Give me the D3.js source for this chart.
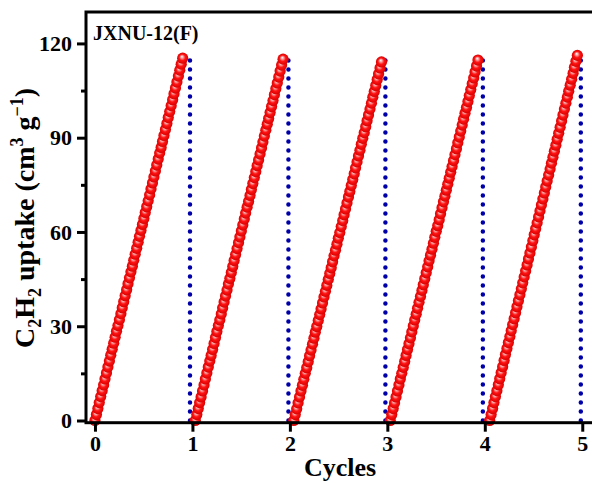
<!DOCTYPE html>
<html>
<head>
<meta charset="utf-8">
<script src="https://cdn.jsdelivr.net/npm/d3@7"></script>
<style>
body { margin: 0; background: #fff; }
text { font-family: "Liberation Serif", "Times New Roman", serif; font-weight: bold; fill: #000; }
</style>
</head>
<body>
<script>
// start of each adsorption cycle (x, in cycles)
var cycleStart = [0, 1.03, 2.04, 3.03, 4.05];
// time offset of each sample inside a cycle
var cycleTime = [0, 0.015, 0.030, 0.044, 0.059, 0.074, 0.089, 0.103, 0.118, 0.133, 0.148, 0.162, 0.177, 0.192, 0.207, 0.221,
	0.236, 0.251, 0.266, 0.280, 0.295, 0.310, 0.325, 0.339, 0.354, 0.369, 0.384, 0.398, 0.413, 0.428, 0.443, 0.457,
	0.472, 0.487, 0.502, 0.516, 0.531, 0.546, 0.561, 0.575, 0.590, 0.605, 0.620, 0.634, 0.649, 0.664, 0.679, 0.693,
	0.708, 0.723, 0.738, 0.752, 0.767, 0.782, 0.797, 0.811, 0.826, 0.841, 0.856, 0.870, 0.885, 0.900];

var uptake1 = [0, 1.9, 3.8, 5.7, 7.6, 9.5, 11.3, 13.2, 15.1, 17.0, 18.9, 20.8, 22.7, 24.6, 26.5, 28.4, 30.2, 32.1, 34.0, 35.9,
	37.8, 39.7, 41.6, 43.5, 45.4, 47.3, 49.1, 51.0, 52.9, 54.8, 56.7, 58.6, 60.5, 62.4, 64.3, 66.2, 68.0, 69.9, 71.8, 73.7,
	75.6, 77.5, 79.4, 81.3, 83.2, 85.1, 86.9, 88.8, 90.7, 92.6, 94.5, 96.4, 98.3, 100.2, 102.1, 104.0, 105.8, 107.7, 109.6,
	111.5, 113.4, 115.3];
var uptake2 = [0, 1.9, 3.8, 5.7, 7.5, 9.4, 11.3, 13.2, 15.1, 17.0, 18.9, 20.7, 22.6, 24.5, 26.4, 28.3, 30.2, 32.0, 33.9, 35.8,
	37.7, 39.6, 41.5, 43.4, 45.2, 47.1, 49.0, 50.9, 52.8, 54.7, 56.6, 58.4, 60.3, 62.2, 64.1, 66.0, 67.9, 69.7, 71.6, 73.5,
	75.4, 77.3, 79.2, 81.1, 82.9, 84.8, 86.7, 88.6, 90.5, 92.4, 94.3, 96.1, 98.0, 99.9, 101.8, 103.7, 105.6, 107.4, 109.3,
	111.2, 113.1, 115.0];
var uptake3 = [0, 1.9, 3.7, 5.6, 7.5, 9.4, 11.2, 13.1, 15.0, 16.8, 18.7, 20.6, 22.4, 24.3, 26.2, 28.1, 29.9, 31.8, 33.7, 35.5,
	37.4, 39.3, 41.1, 43.0, 44.9, 46.8, 48.6, 50.5, 52.4, 54.2, 56.1, 58.0, 59.8, 61.7, 63.6, 65.5, 67.3, 69.2, 71.1, 72.9,
	74.8, 76.7, 78.5, 80.4, 82.3, 84.2, 86.0, 87.9, 89.8, 91.6, 93.5, 95.4, 97.2, 99.1, 101.0, 102.9, 104.7, 106.6, 108.5,
	110.3, 112.2, 114.1];
var uptake4 = [0, 1.9, 3.8, 5.6, 7.5, 9.4, 11.3, 13.2, 15.0, 16.9, 18.8, 20.7, 22.6, 24.4, 26.3, 28.2, 30.1, 32.0, 33.8, 35.7,
	37.6, 39.5, 41.4, 43.2, 45.1, 47.0, 48.9, 50.8, 52.6, 54.5, 56.4, 58.3, 60.2, 62.0, 63.9, 65.8, 67.7, 69.6, 71.4, 73.3,
	75.2, 77.1, 79.0, 80.8, 82.7, 84.6, 86.5, 88.4, 90.2, 92.1, 94.0, 95.9, 97.8, 99.6, 101.5, 103.4, 105.3, 107.2, 109.0,
	110.9, 112.8, 114.7];
var uptake5 = [0, 1.9, 3.8, 5.7, 7.6, 9.5, 11.4, 13.3, 15.2, 17.1, 19.1, 21.0, 22.9, 24.8, 26.7, 28.6, 30.5, 32.4, 34.3, 36.2,
	38.1, 40.0, 41.9, 43.8, 45.7, 47.6, 49.5, 51.4, 53.3, 55.2, 57.2, 59.1, 61.0, 62.9, 64.8, 66.7, 68.6, 70.5, 72.4, 74.3,
	76.2, 78.1, 80.0, 81.9, 83.8, 85.7, 87.6, 89.5, 91.4, 93.3, 95.3, 97.2, 99.1, 101.0, 102.9, 104.8, 106.7, 108.6, 110.5,
	112.4, 114.3, 116.2];

// desorption steps (blue dotted)
var desorbX = [0.975, 1.985, 2.98, 3.98, 4.985];
var desorbTop = [116.5, 116.2, 114.8, 115.5, 116.8];

var xTicks = [0, 1, 2, 3, 4, 5];
var yTicks = [0, 30, 60, 90, 120];
var yMinor = [15, 45, 75, 105];

var uptakeAll = [uptake1, uptake2, uptake3, uptake4, uptake5];

var width = 592, height = 483;
var margin = {top: 12, left: 86, bottom: 60};

var x = d3.scaleLinear().domain([-0.092, 5.2]).range([margin.left, margin.left + 5.292 * 97.46]);
var y = d3.scaleLinear().domain([-0.7, 130]).range([height - margin.bottom - 0.3, margin.top]);

var svg = d3.select("body").append("svg")
	.attr("width", width)
	.attr("height", height);

var defs = svg.append("defs");
var grad = defs.append("radialGradient")
	.attr("id", "ball")
	.attr("cx", "0.5").attr("cy", "0.5").attr("r", "0.5")
	.attr("fx", "0.42").attr("fy", "0.35");
grad.append("stop").attr("offset", "0").attr("stop-color", "#ffffff");
grad.append("stop").attr("offset", "0.25").attr("stop-color", "#ff9c9c");
grad.append("stop").attr("offset", "0.55").attr("stop-color", "#ff1414");
grad.append("stop").attr("offset", "1").attr("stop-color", "#d80000");

// desorption lines
var line = d3.line().x(function(d) { return x(d[0]); }).y(function(d) { return y(d[1]); });
svg.selectAll(".desorb")
	.data(desorbX)
	.enter().append("path")
	.attr("class", "desorb")
	.attr("d", function(d, i) { return line([[d, 0], [d, desorbTop[i]]]); })
	.attr("fill", "none")
	.attr("stroke", "#0000a8")
	.attr("stroke-width", 4.5)
	.attr("stroke-linecap", "round")
	.attr("stroke-dasharray", "0 9");

// adsorption points
uptakeAll.forEach(function(vals, c) {
	var pts = vals.map(function(v, i) { return [cycleStart[c] + cycleTime[i], v]; });
	svg.append("g").selectAll("circle")
		.data(pts)
		.enter().append("circle")
		.attr("cx", function(d) { return x(d[0]); })
		.attr("cy", function(d) { return y(d[1]); })
		.attr("r", 5.6)
		.attr("fill", "url(#ball)");
});

// FRAME
svg.append("rect")
	.attr("x", x.range()[0])
	.attr("y", y.range()[1])
	.attr("width", x.range()[1] - x.range()[0])
	.attr("height", y.range()[0] - y.range()[1])
	.attr("fill", "none")
	.attr("stroke", "#000")
	.attr("stroke-width", 3);

// AXIS
var xAxis = svg.append("g")
	.attr("transform", "translate(0," + y.range()[0] + ")")
	.call(d3.axisBottom(x).tickValues(xTicks).tickSize(9).tickPadding(4).tickFormat(d3.format("d")));

var yAxis = svg.append("g")
	.attr("transform", "translate(" + x.range()[0] + ",0)")
	.call(d3.axisLeft(y).tickValues(yTicks).tickSize(9).tickPadding(5).tickFormat(d3.format("d")));

var yAxisMinor = svg.append("g")
	.attr("transform", "translate(" + x.range()[0] + ",0)")
	.call(d3.axisLeft(y).tickValues(yMinor).tickSize(5).tickFormat(""));

[xAxis, yAxis, yAxisMinor].forEach(function(g) {
	g.select(".domain").remove();
	g.selectAll(".tick line").attr("stroke", "#000").attr("stroke-width", 3);
	g.selectAll("text")
		.style("font-family", "'Liberation Serif', 'Times New Roman', serif")
		.style("font-weight", "bold")
		.style("font-size", "22px")
		.attr("fill", "#000");
});

// AXIS LABELS
svg.append("text")
	.attr("x", 340)
	.attr("y", 476)
	.attr("text-anchor", "middle")
	.style("font-size", "26px")
	.text("Cycles");

var ylab = svg.append("text")
	.attr("transform", "translate(34,218) rotate(-90)")
	.attr("text-anchor", "middle")
	.style("font-size", "28px");
ylab.append("tspan").text("C");
ylab.append("tspan").attr("dy", 7).style("font-size", "18px").text("2");
ylab.append("tspan").attr("dy", -7).text("H");
ylab.append("tspan").attr("dy", 7).style("font-size", "18px").text("2");
ylab.append("tspan").attr("dy", -7).text(" uptake (cm");
ylab.append("tspan").attr("dy", -11).style("font-size", "18px").text("3");
ylab.append("tspan").attr("dy", 11).text(" g");
ylab.append("tspan").attr("dy", -11).style("font-size", "18px").text("\u22121");
ylab.append("tspan").attr("dy", 11).text(")");

// sample name
svg.append("text")
	.attr("x", 93)
	.attr("y", 40)
	.style("font-size", "20px")
	.text("JXNU-12(F)");
</script>
</body>
</html>
